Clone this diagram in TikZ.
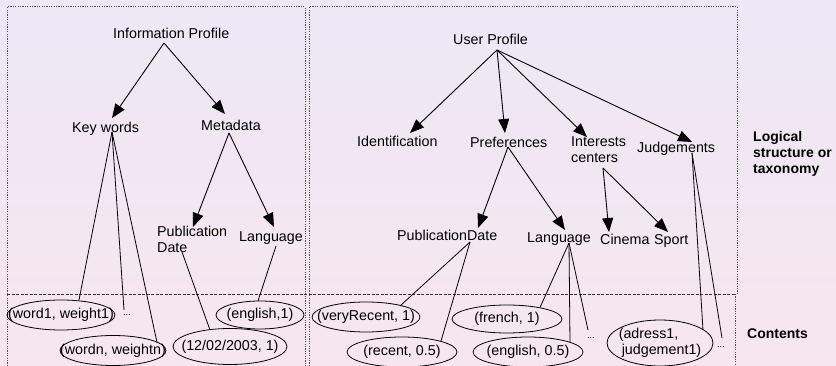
\documentclass[tikz,border=0pt]{standalone}
\usepackage{fontspec}
\setmainfont{Liberation Sans}
\usetikzlibrary{arrows.meta,calc,shapes.geometric}
\definecolor{bgtop}{RGB}{236,232,246}
\definecolor{bgbot}{RGB}{247,230,238}
\definecolor{boxline}{RGB}{80,80,80}
\tikzset{
  txt/.style={inner sep=0pt, anchor=base west, align=left, font=\fontsize{14.3pt}{16pt}\selectfont},
  btxt/.style={txt, font=\fontsize{14pt}{16pt}\selectfont\bfseries},
  dotsnode/.style={inner sep=0pt, anchor=base west, font=\fontsize{9pt}{10pt}\selectfont},
  ell/.style={ellipse, draw=black, line width=0.8pt, inner sep=0pt},
  etxt/.style={inner sep=0pt, align=left, font=\fontsize{14.3pt}{16pt}\selectfont},
  arr/.style={line width=0.9pt, -{Triangle[length=14pt,width=11pt]}},
  ln/.style={line width=0.8pt},
  boxdot/.style={draw=boxline, line width=1pt, dash pattern=on 1.2pt off 1.2pt},
  sepdash/.style={draw=black!80, line width=0.9pt, dash pattern=on 3pt off 1.5pt}
}
\begin{document}
\begin{tikzpicture}[x=1pt,y=-1pt]
\useasboundingbox (0,0) rectangle (836,366);
\shade[top color=bgtop, bottom color=bgbot] (0,0) rectangle (836,366);

% boxes
\draw[boxdot] (7,366) -- (7,7) -- (305,7) -- (305,366);
\draw[boxdot] (309,366) -- (309,7) -- (737,7) -- (737,294);
\draw[boxdot] (735,294) -- (735,366);
\draw[sepdash] (7,294) -- (735,294);

% text nodes, left box (multi-line nodes placed by their last baseline)
\node[txt] (ip) at (113,39) {Information Profile};
\node[txt] (kw) at (72,133) {Key words};
\node[txt] (md) at (201,131) {Metadata};
\node[txt] (pd) at (157,253) {Publication\\Date};
\node[txt] (lg) at (239,242) {Language};

% text nodes, right box
\node[txt] (up) at (453,45) {User Profile};
\node[txt] (idn) at (357,147) {Identification};
\node[txt] (pref) at (470,148) {Preferences};
\node[txt] (ic) at (571,163) {Interests\\centers};
\node[txt] (jd) at (637,153) {Judgements};
\node[txt] (pdb) at (397,241) {PublicationDate};
\node[txt] (lgb) at (527,243) {Language};
\node[txt] (cin) at (600,245) {Cinema};
\node[txt] (spt) at (654,245) {Sport};

% side labels
\node[btxt] (lst) at (753,174) {Logical\\structure or\\taxonomy};
\node[btxt] (cnt) at (747,338) {Contents};

% dots
\node[dotsnode] (da) at (123,316) {...};
\node[dotsnode] (db) at (587,338) {...};
\node[dotsnode] (dc) at (717,348) {...};

% ellipses
\node[ell, minimum width=108pt, minimum height=30pt, label={[etxt]center:{(word1, weight1)}}] (wa) at (61,315) {};
\node[ell, minimum width=106pt, minimum height=30pt, label={[etxt]center:{(wordn, weightn)}}] (wn) at (113,350.5) {};
\node[ell, minimum width=88pt, minimum height=28pt, label={[etxt]center:{(english,1)}}] (ena) at (260,315) {};
\node[ell, minimum width=114pt, minimum height=36pt, label={[etxt]center:{(12/02/2003, 1)}}] (dt) at (230,346.5) {};
\node[ell, minimum width=108pt, minimum height=30pt, label={[etxt]center:{(veryRecent, 1)}}] (vr) at (366,317) {};
\node[ell, minimum width=110pt, minimum height=30pt, label={[etxt]center:{(recent, 0.5)}}] (rc) at (402,352) {};
\node[ell, minimum width=110pt, minimum height=28pt, label={[etxt]center:{(french, 1)}}] (fr) at (507,319) {};
\node[ell, minimum width=110pt, minimum height=30pt, label={[etxt]center:{(english, 0.5)}}] (enb) at (528,352) {};
\node[ell, minimum width=106pt, minimum height=46pt, label={[etxt]center:{(adress1,\\\hspace{3pt}judgement1)}}] (adr) at (660,343) {};

% arrows left box
\draw[arr] ($(ip.base west)+(51,4)$) -- ($(kw.base west)+(40,-15)$);
\draw[arr] ($(ip.base west)+(51,4)$) -- ($(md.base west)+(24,-17)$);
\draw[arr] ($(md.base west)+(28,2)$) -- ($(pd.base west)+(36,-26)$);
\draw[arr] ($(md.base west)+(28,2)$) -- ($(lg.base west)+(35,-15)$);
\draw[ln] ($(kw.base west)+(40,-1)$) -- ($(wa.center)+(18,-15)$);
\draw[ln] ($(kw.base west)+(40,-1)$) -- ($(da.base west)+(1,-6)$);
\draw[ln] ($(kw.base west)+(40,-1)$) -- ($(wn.center)+(44,-8)$);
\draw[ln] ($(pd.base west)+(25,-1)$) -- ($(dt.center)+(-20,-16.5)$);
\draw[ln] ($(lg.base west)+(37,4)$) -- ($(ena.center)+(-2,-14)$);

% arrows right box
\draw[arr] ($(up.base west)+(44,5)$) -- ($(idn.base west)+(53,-14)$);
\draw[arr] ($(up.base west)+(44,5)$) -- ($(pref.base west)+(35,-15)$);
\draw[arr] ($(up.base west)+(44,5)$) -- ($(ic.base west)+(16,-26)$);
\draw[arr] ($(up.base west)+(44,5)$) -- ($(jd.base west)+(55,-11)$);
\draw[arr] ($(pref.base west)+(38,-1)$) -- ($(pdb.base west)+(81,-13)$);
\draw[arr] ($(pref.base west)+(38,-1)$) -- ($(lgb.base west)+(38,-13)$);
\draw[arr] ($(ic.base west)+(32,5)$) -- ($(cin.base west)+(9,-13)$);
\draw[arr] ($(ic.base west)+(32,5)$) -- ($(spt.base west)+(14,-13)$);
\draw[ln] ($(pdb.base west)+(73,1)$) -- ($(vr.center)+(34,-11)$);
\draw[ln] ($(pdb.base west)+(73,1)$) -- ($(rc.center)+(39,-11)$);
\draw[ln] ($(lgb.base west)+(42,0)$) -- ($(fr.center)+(33,-11.5)$);
\draw[ln] ($(lgb.base west)+(42,0)$) -- ($(enb.center)+(42,-10)$);
\draw[ln] ($(lgb.base west)+(42,0)$) -- ($(db.base west)+(1,-8)$);
\draw[ln] ($(jd.base west)+(55,0)$) -- ($(adr.center)+(43,-13)$);
\draw[ln] ($(jd.base west)+(55,0)$) -- ($(dc.base west)+(5,-10)$);
\end{tikzpicture}
\end{document}
